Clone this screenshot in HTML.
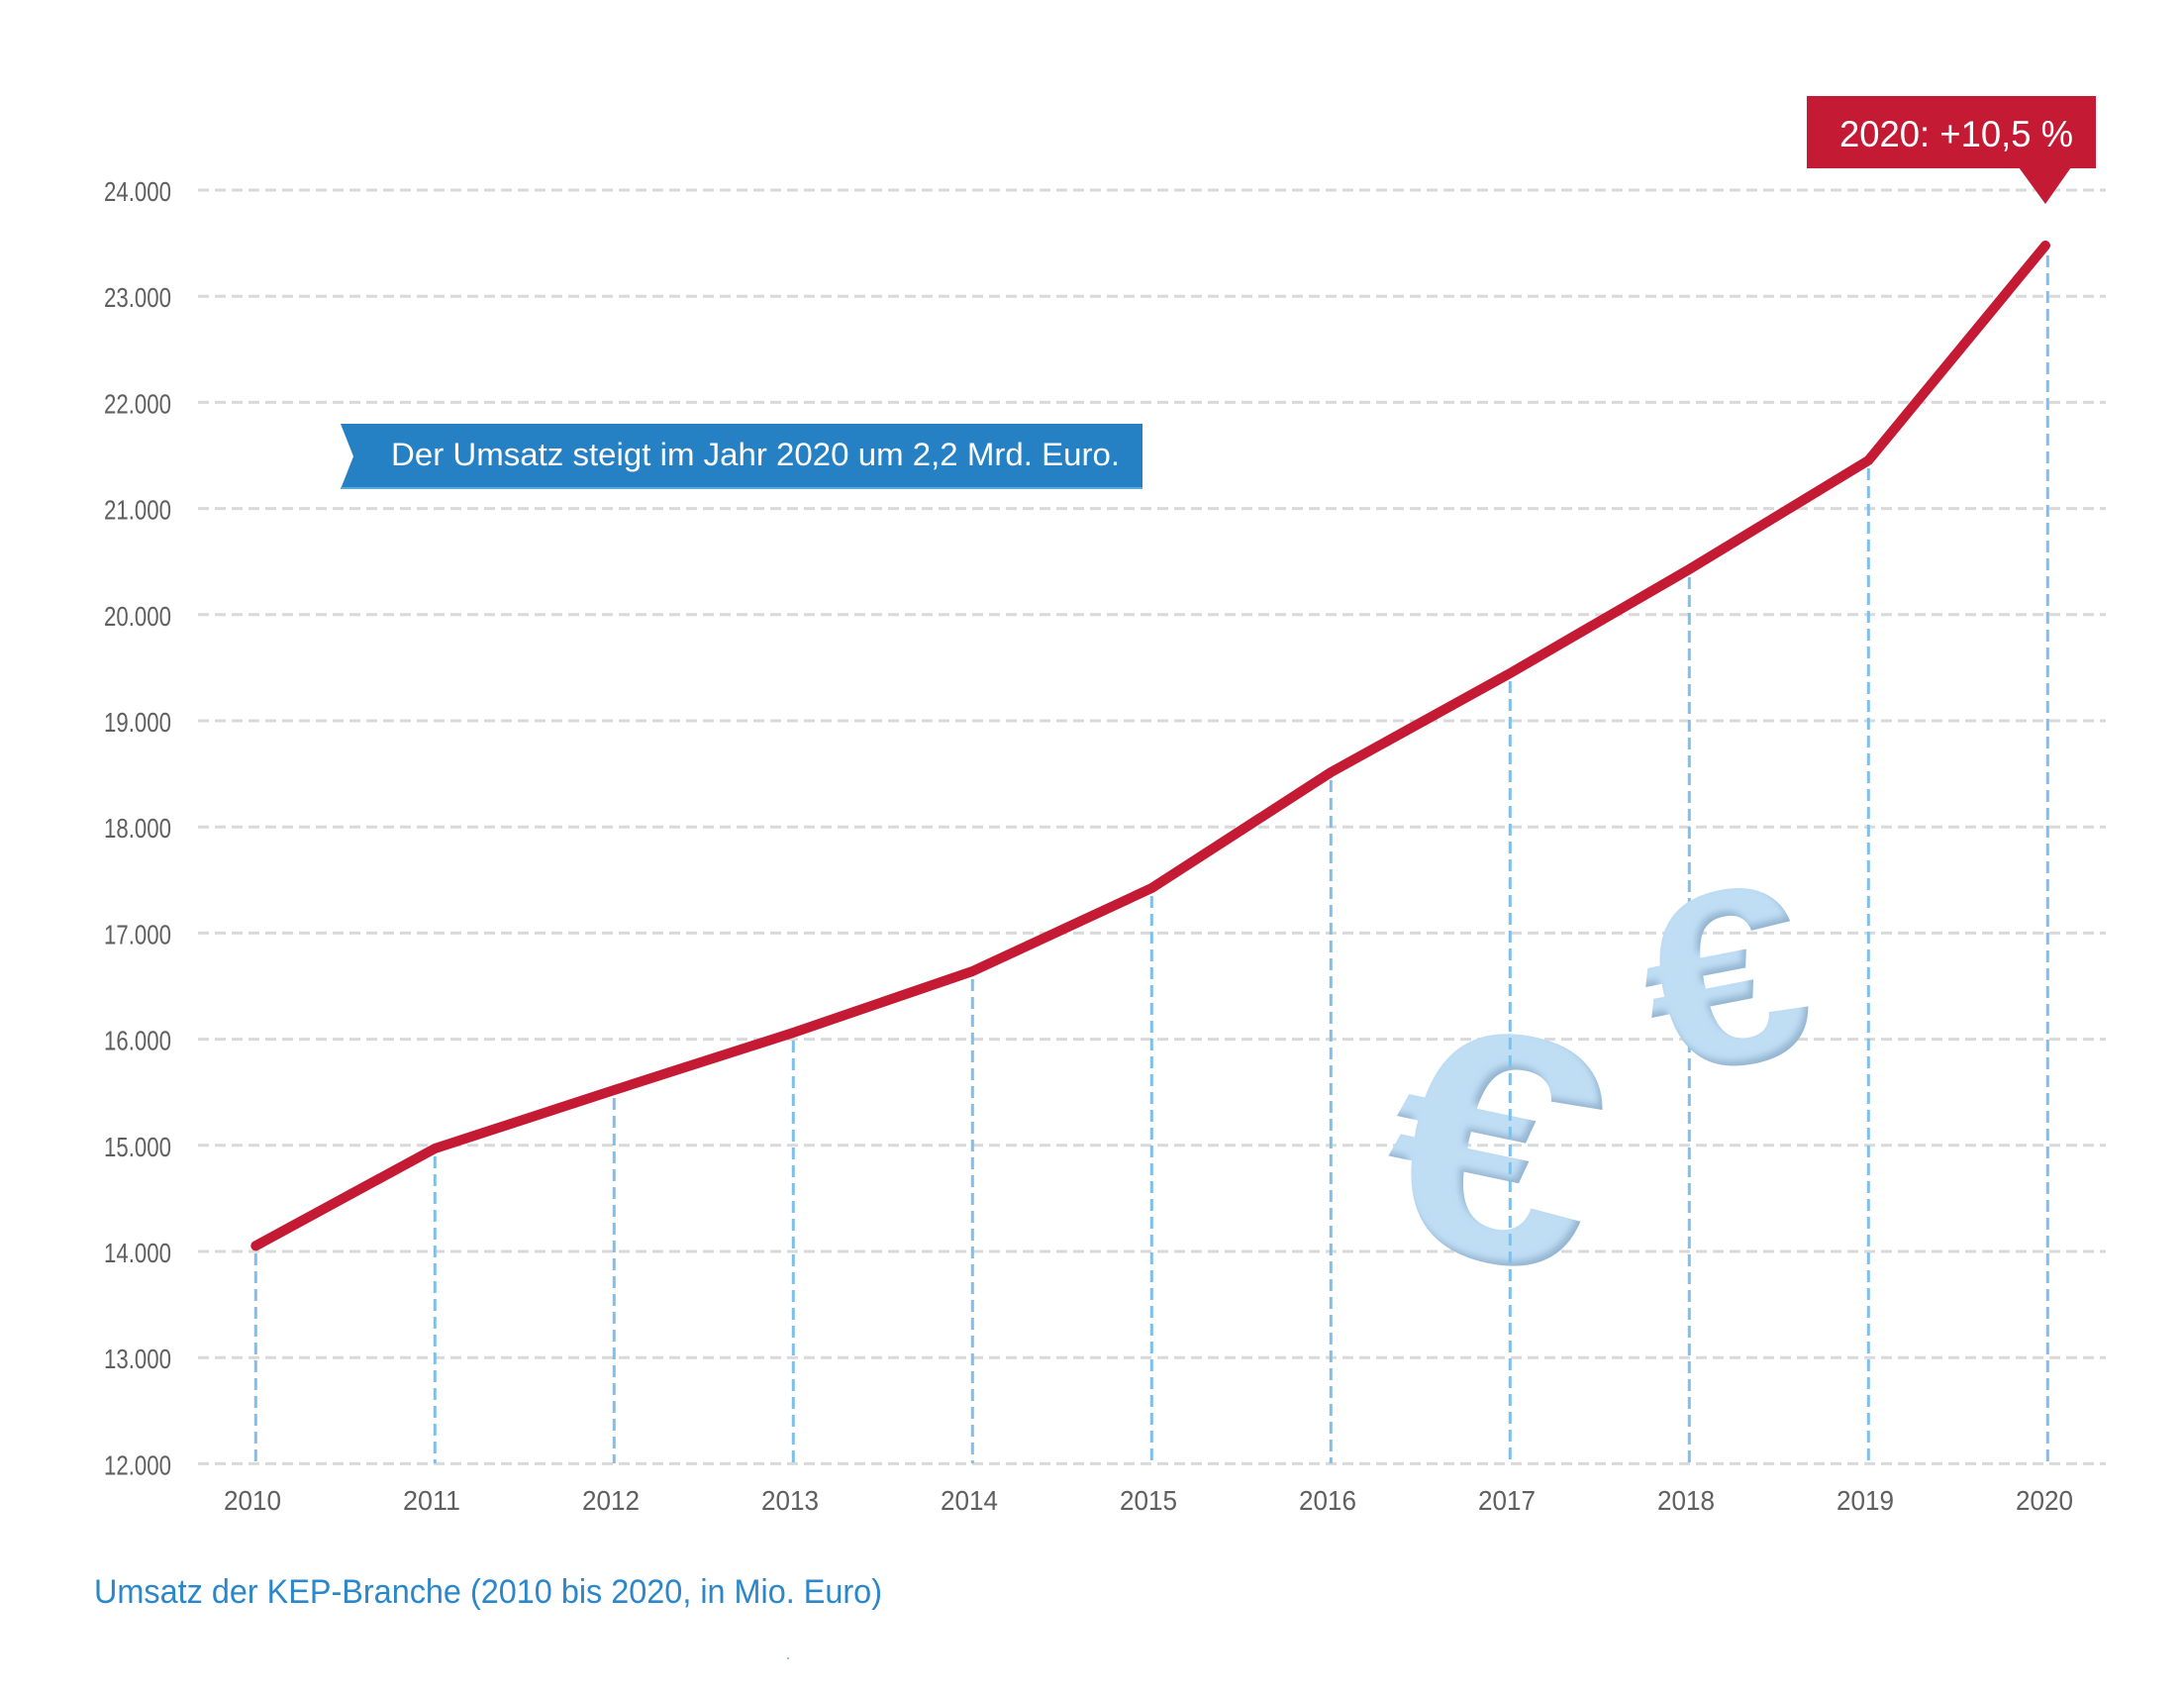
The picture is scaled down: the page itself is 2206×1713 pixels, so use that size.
<!DOCTYPE html>
<html>
<head>
<meta charset="utf-8">
<style>
  html, body { margin: 0; padding: 0; background: #ffffff; }
  body { width: 2206px; height: 1713px; overflow: hidden; }
  svg { display: block; }
  .ylab { font-family: "Liberation Sans", sans-serif; font-size: 28px; fill: #5f5f61; }
  .xlab { font-family: "Liberation Sans", sans-serif; font-size: 28px; fill: #5f5f61; }
</style>
</head>
<body>
<svg width="2206" height="1713" viewBox="0 0 2206 1713" xmlns="http://www.w3.org/2000/svg">
  <defs>
    <filter id="bevel" x="-20%" y="-20%" width="140%" height="140%">
      <feGaussianBlur in="SourceAlpha" stdDeviation="3.5" result="blur"/>
      <feOffset in="blur" dx="-4" dy="-5" result="off"/>
      <feComposite in="SourceAlpha" in2="off" operator="out" result="mask"/>
      <feFlood flood-color="#6a90b5" flood-opacity="0.6"/>
      <feComposite in2="mask" operator="in" result="shadow"/>
      <feMerge>
        <feMergeNode in="SourceGraphic"/>
        <feMergeNode in="shadow"/>
      </feMerge>
    </filter>
  </defs>

  <!-- horizontal grid lines -->
  <g stroke="#d9d9d9" stroke-width="3" stroke-dasharray="11 6">
    <line x1="200" y1="192" x2="2127" y2="192"/>
    <line x1="200" y1="299.2" x2="2127" y2="299.2"/>
    <line x1="200" y1="406.4" x2="2127" y2="406.4"/>
    <line x1="200" y1="513.6" x2="2127" y2="513.6"/>
    <line x1="200" y1="620.8" x2="2127" y2="620.8"/>
    <line x1="200" y1="728" x2="2127" y2="728"/>
    <line x1="200" y1="835.2" x2="2127" y2="835.2"/>
    <line x1="200" y1="942.4" x2="2127" y2="942.4"/>
    <line x1="200" y1="1049.6" x2="2127" y2="1049.6"/>
    <line x1="200" y1="1156.8" x2="2127" y2="1156.8"/>
    <line x1="200" y1="1264" x2="2127" y2="1264"/>
    <line x1="200" y1="1371.2" x2="2127" y2="1371.2"/>
    <line x1="200" y1="1478.4" x2="2127" y2="1478.4"/>
  </g>

  <!-- y labels -->
  <g class="ylab">
    <text x="105" y="203" textLength="68" lengthAdjust="spacingAndGlyphs">24.000</text>
    <text x="105" y="310.2" textLength="68" lengthAdjust="spacingAndGlyphs">23.000</text>
    <text x="105" y="417.4" textLength="68" lengthAdjust="spacingAndGlyphs">22.000</text>
    <text x="105" y="524.6" textLength="68" lengthAdjust="spacingAndGlyphs">21.000</text>
    <text x="105" y="631.8" textLength="68" lengthAdjust="spacingAndGlyphs">20.000</text>
    <text x="105" y="739" textLength="68" lengthAdjust="spacingAndGlyphs">19.000</text>
    <text x="105" y="846.2" textLength="68" lengthAdjust="spacingAndGlyphs">18.000</text>
    <text x="105" y="953.4" textLength="68" lengthAdjust="spacingAndGlyphs">17.000</text>
    <text x="105" y="1060.6" textLength="68" lengthAdjust="spacingAndGlyphs">16.000</text>
    <text x="105" y="1167.8" textLength="68" lengthAdjust="spacingAndGlyphs">15.000</text>
    <text x="105" y="1275" textLength="68" lengthAdjust="spacingAndGlyphs">14.000</text>
    <text x="105" y="1382.2" textLength="68" lengthAdjust="spacingAndGlyphs">13.000</text>
    <text x="105" y="1489.4" textLength="68" lengthAdjust="spacingAndGlyphs">12.000</text>
  </g>

  <!-- big euro (below verticals) -->
  <g filter="url(#bevel)">
    <text transform="translate(1512,1153) rotate(12) scale(1.25,1.08)" x="0" y="110" text-anchor="middle"
          font-family="Liberation Sans, sans-serif" font-weight="bold" font-size="305" fill="#bfdef4">€</text>
  </g>

  <!-- vertical dashed lines -->
  <g stroke="#7fc0ea" stroke-width="3" stroke-dasharray="12 6">
    <line x1="258.3" y1="1266" x2="258.3" y2="1478"/>
    <line x1="439.3" y1="1168" x2="439.3" y2="1478"/>
    <line x1="620.3" y1="1109" x2="620.3" y2="1478"/>
    <line x1="801.3" y1="1051" x2="801.3" y2="1478"/>
    <line x1="982.3" y1="989" x2="982.3" y2="1478"/>
    <line x1="1163.3" y1="905" x2="1163.3" y2="1478"/>
    <line x1="1344.3" y1="788" x2="1344.3" y2="1478"/>
    <line x1="1525.3" y1="688" x2="1525.3" y2="1478"/>
    <line x1="1706.3" y1="583" x2="1706.3" y2="1478"/>
    <line x1="1887.3" y1="473" x2="1887.3" y2="1478"/>
    <line x1="2068.3" y1="258" x2="2068.3" y2="1478"/>
  </g>

  <!-- small euro (above verticals) -->
  <g filter="url(#bevel)">
    <text transform="translate(1742,985) rotate(-11) scale(1.25,1.07)" x="0" y="85" text-anchor="middle"
          font-family="Liberation Sans, sans-serif" font-weight="bold" font-size="236" fill="#bfdef4">€</text>
  </g>

  <!-- data line -->
  <polyline fill="none" stroke="#c41a34" stroke-width="10" stroke-linejoin="round" stroke-linecap="round"
    points="258.3,1258.3 439.3,1160 620.3,1101 801.3,1043 982.3,981 1163.3,897 1344.3,780 1525.3,680 1706.3,575 1887.3,465 2066,248"/>

  <!-- x labels -->
  <g class="xlab">
    <text x="226" y="1525" textLength="58" lengthAdjust="spacingAndGlyphs">2010</text>
    <text x="407" y="1525" textLength="58" lengthAdjust="spacingAndGlyphs">2011</text>
    <text x="588" y="1525" textLength="58" lengthAdjust="spacingAndGlyphs">2012</text>
    <text x="769" y="1525" textLength="58" lengthAdjust="spacingAndGlyphs">2013</text>
    <text x="950" y="1525" textLength="58" lengthAdjust="spacingAndGlyphs">2014</text>
    <text x="1131" y="1525" textLength="58" lengthAdjust="spacingAndGlyphs">2015</text>
    <text x="1312" y="1525" textLength="58" lengthAdjust="spacingAndGlyphs">2016</text>
    <text x="1493" y="1525" textLength="58" lengthAdjust="spacingAndGlyphs">2017</text>
    <text x="1674" y="1525" textLength="58" lengthAdjust="spacingAndGlyphs">2018</text>
    <text x="1855" y="1525" textLength="58" lengthAdjust="spacingAndGlyphs">2019</text>
    <text x="2036" y="1525" textLength="58" lengthAdjust="spacingAndGlyphs">2020</text>
  </g>

  <!-- blue banner -->
  <polygon points="344,428 1154,428 1154,494 344,494 357,461" fill="#2581c4"/>
  <rect x="344" y="492" width="810" height="2" fill="#5aa9de"/>
  <text x="395" y="470" font-family="Liberation Sans, sans-serif" font-size="32" fill="#ffffff"
        textLength="736" lengthAdjust="spacingAndGlyphs">Der Umsatz steigt im Jahr 2020 um 2,2 Mrd. Euro.</text>

  <!-- red callout -->
  <rect x="1825" y="97" width="292" height="73" fill="#c41a34"/>
  <polygon points="2039,169 2092,169 2066,206" fill="#c41a34"/>
  <text x="1858" y="148" font-family="Liberation Sans, sans-serif" font-size="37" fill="#ffffff"
        textLength="236" lengthAdjust="spacingAndGlyphs">2020: +10,5 %</text>

  <!-- caption -->
  <text x="95" y="1619" font-family="Liberation Sans, sans-serif" font-size="34" fill="#2b87c9"
        textLength="796" lengthAdjust="spacingAndGlyphs">Umsatz der KEP-Branche (2010 bis 2020, in Mio. Euro)</text>

  <!-- tiny dot -->
  <rect x="795" y="1674" width="2" height="2" fill="#8cc4ea"/>
</svg>
</body>
</html>
